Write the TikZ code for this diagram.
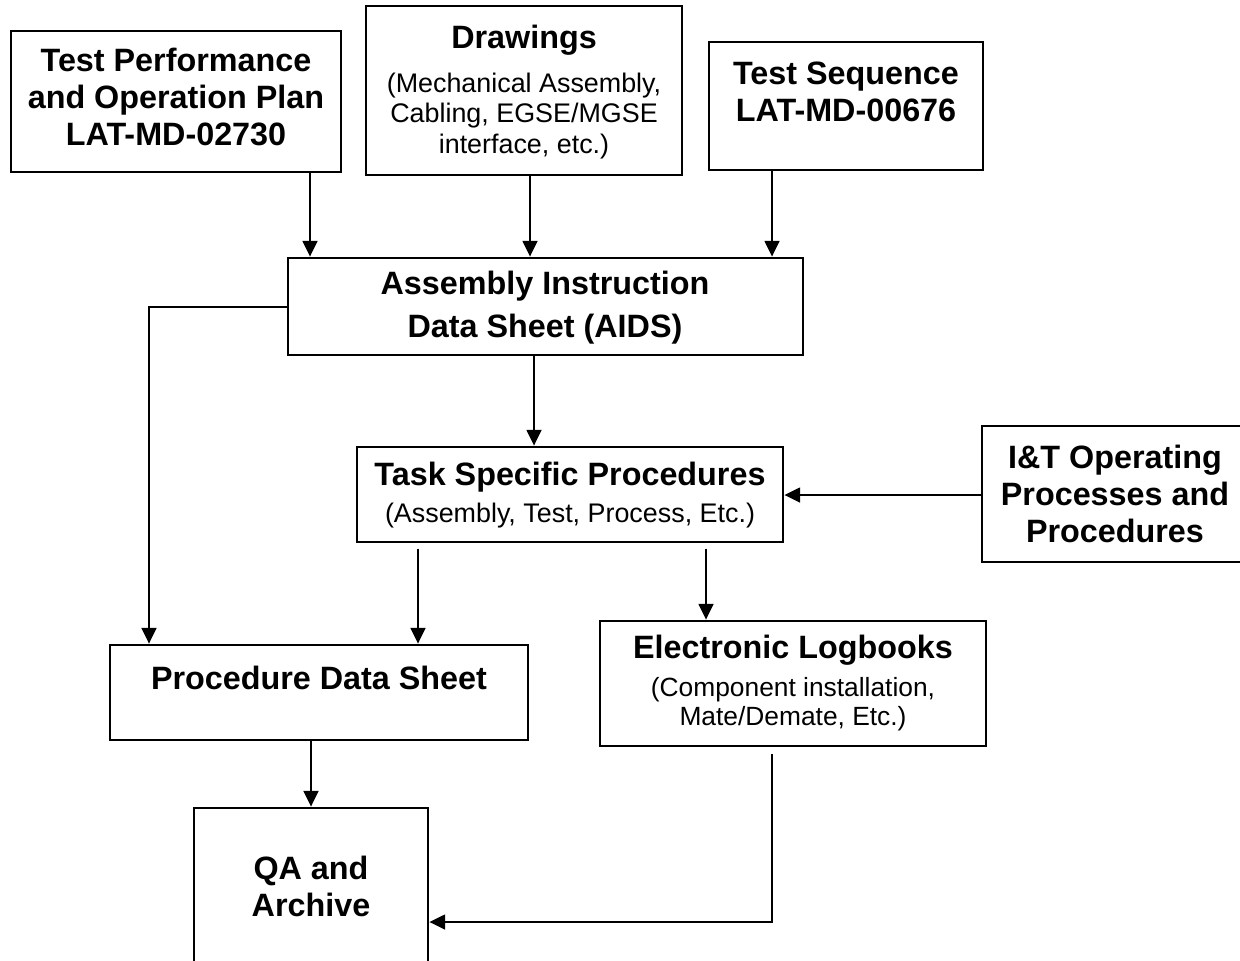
\documentclass[tikz,border=0pt]{standalone}
\usepackage{fontspec}
\setmainfont{Liberation Sans}
\usetikzlibrary{fit,arrows.meta}

\begin{document}
\begin{tikzpicture}[x=0.02cm,y=-0.02cm,
  box/.style={draw, line width=1.6pt, inner sep=0pt, rectangle},
  bt/.style={font=\fontsize{18.4}{21}\selectfont\bfseries, align=center, inner sep=0pt},
  nt/.style={font=\fontsize{15.3}{17.6}\selectfont, align=center, inner sep=0pt},
  conn/.style={line width=1.1pt},
  arr/.style={conn, -{Triangle[length=9pt,width=8.5pt]}}]

\useasboundingbox (0,0) rectangle (1240,960);
\clip (0,0) rectangle (1240,960);

% boxes
\node[box, fit={(11,31) (341,172)}] (tpop) {};
\node[box, fit={(366,6) (682,175)}] (drw) {};
\node[box, fit={(709,42) (983,170)}] (tseq) {};
\node[box, fit={(288,258) (803,355)}] (aids) {};
\node[box, fit={(357,447) (783,542)}] (task) {};
\node[box, fit={(982,426) (1250,562)}] (itop) {};
\node[box, fit={(110,645) (528,740)}] (pds) {};
\node[box, fit={(600,621) (986,746)}] (elog) {};
\node[box, fit={(194,808) (428,1000)}] (qa) {};

% texts
\node[bt] (tpopT) at (176,97) {Test Performance\\and Operation Plan\\LAT-MD-02730};
\node[bt] (drwT) at (524,40) {Drawings};
\node[nt] (drwS) at (524,116) {(Mechanical Assembly,\\Cabling, EGSE/MGSE\\interface, etc.)};
\node[bt] (tseqT) at (846,92) {Test Sequence\\LAT-MD-00676};
\node[bt, font=\fontsize{18.4}{24.5}\selectfont\bfseries] (aidsT) at (545,308) {Assembly Instruction\\Data Sheet (AIDS)};
\node[bt] (taskT) at (570,477) {Task Specific Procedures};
\node[nt] (taskS) at (570,516) {(Assembly, Test, Process, Etc.)};
\node[bt] (itopT) at (1115,494) {I\&T Operating\\Processes and\\Procedures};
\node[bt] (pdsT) at (319,678) {Procedure Data Sheet};
\node[bt] (elogT) at (793,650) {Electronic Logbooks};
\node[nt, font=\fontsize{15}{16.5}\selectfont] (elogS) at (793,704) {(Component installation,\\Mate/Demate, Etc.)};
\node[bt] (qaT) at (311,886) {QA and\\Archive};

% connectors
\draw[arr] (310,0 |- tpop.south) -- (310,0 |- aids.north);
\draw[arr] (530,0 |- drw.south) -- (530,0 |- aids.north);
\draw[arr] (772,0 |- tseq.south) -- (772,0 |- aids.north);
\draw[arr] (aids.west |- 0,307) -- (149,307) -- (149,0 |- pds.north);
\draw[arr] (534,0 |- aids.south) -- (534,0 |- task.north);
\draw[arr] (itop.west |- 0,495) -- (task.east |- 0,495);
\draw[arr] ([yshift=-3pt]418,0 |- task.south) -- (418,0 |- pds.north);
\draw[arr] ([yshift=-3pt]706,0 |- task.south) -- (706,0 |- elog.north);
\draw[arr] (311,0 |- pds.south) -- (311,0 |- qa.north);
\draw[arr] ([yshift=-4pt]772,0 |- elog.south) -- (772,922) -- (qa.east |- 0,922);

\end{tikzpicture}
\end{document}
